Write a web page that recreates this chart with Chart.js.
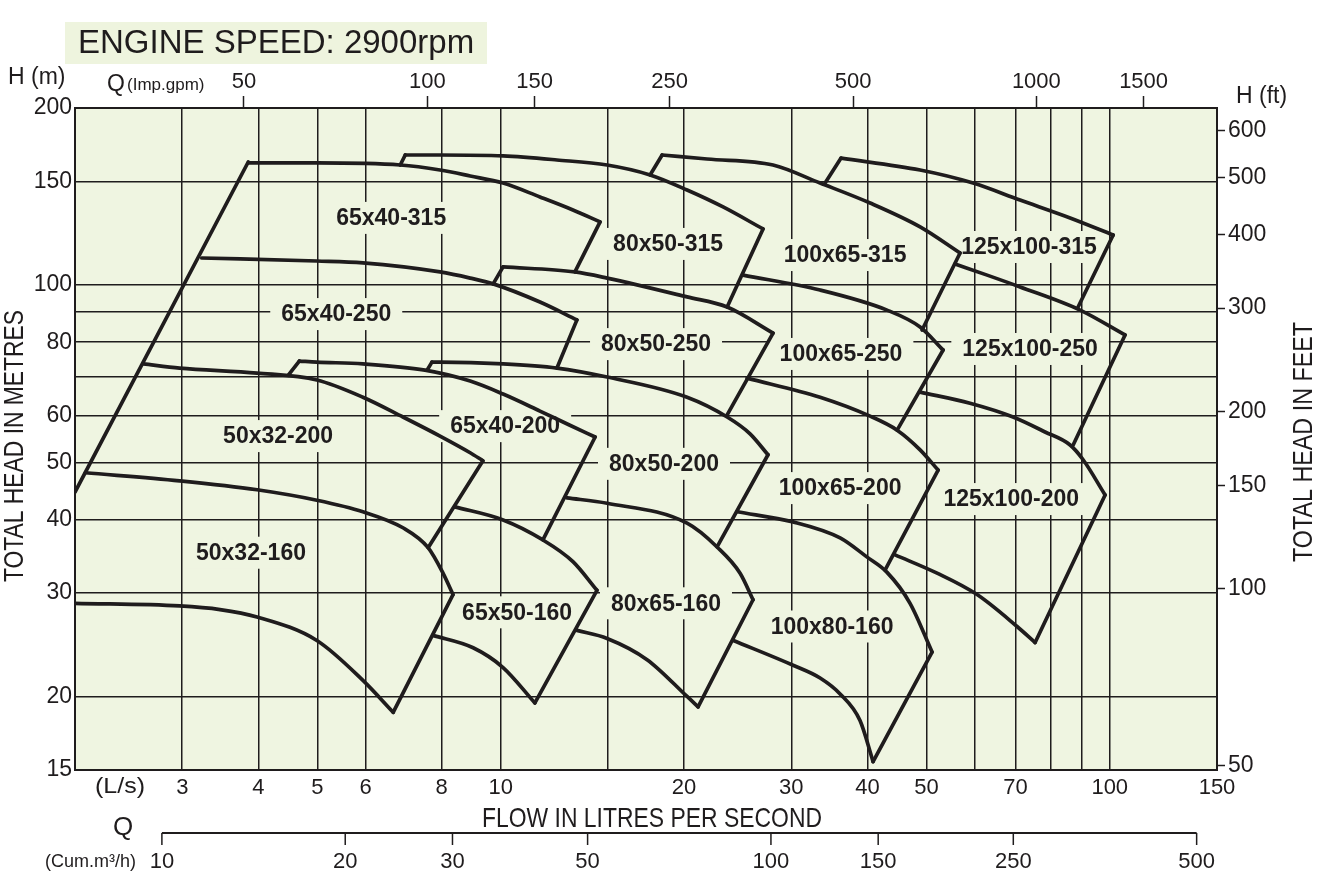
<!DOCTYPE html>
<html>
<head>
<meta charset="utf-8">
<title>Pump performance curves - 2900rpm</title>
<script src="https://cdn.jsdelivr.net/npm/chart.js@4.4.0/dist/chart.umd.min.js"></script>
<style>
  html, body { margin: 0; padding: 0; background: #fff; }
  canvas { display: block; }
</style>
</head>
<body>
<canvas id="pumpChart" width="1317" height="879"></canvas>
<script>
// axis ticks (Q in L/s, H in m)
const xGrid = [3, 4, 5, 6, 8, 10, 15, 20, 30, 40, 50, 60, 70, 80, 90, 100, 150];
const xLabels = [3, 4, 5, 6, 8, 10, 20, 30, 40, 50, 70, 100, 150];
const yGrid = [15, 20, 30, 40, 50, 60, 70, 80, 90, 100, 150, 200];
const yLabels = [15, 20, 30, 40, 50, 60, 80, 100, 150, 200];
const ftTicks = [50, 100, 150, 200, 300, 400, 500, 600];
const gpmTicks = [50, 100, 150, 250, 500, 1000, 1500];
const m3hTicks = [10, 20, 30, 50, 100, 150, 250, 500];

const M_TO_FT = 3.28084;
const LPS_TO_GPM = 13.198;
const LPS_TO_M3H = 3.6;

// curves: [Q (L/s), H (m)]
const minFlowLine = [[2.00, 44.5], [3.85, 161.9]];

const top65x40_315 = [[3.85, 161.3], [4.99, 161.3], [6.84, 160.0], [7.95, 156.9], [8.91, 153.3], [10.09, 149.1], [11.60, 141.2], [13.14, 134.2], [14.56, 128.1]];
const edge65x40_315 = [[14.56, 128.1], [13.24, 105.3]];

const notch80x50_315 = [[6.84, 160.0], [6.97, 166.4]];
const top80x50_315 = [[6.97, 166.4], [7.95, 166.4], [10.09, 165.8], [12.37, 163.2], [14.95, 160.0], [17.59, 153.9], [20.23, 145.1], [23.18, 135.8], [26.96, 124.6]];
const edge80x50_315 = [[26.96, 124.6], [23.54, 91.8]];

const notch100x65_315 = [[17.59, 153.9], [18.41, 166.4]];
const top100x65_315 = [[18.41, 166.4], [21.82, 163.8], [28.00, 160.0], [33.45, 149.1], [40.41, 137.9], [48.82, 125.6], [56.78, 113.4]];
const edge100x65_315 = [[56.78, 113.4], [49.19, 83.9]];

const notch125x100_315 = [[34.09, 149.1], [36.21, 164.4]];
const top125x100_315 = [[36.21, 164.4], [48.82, 156.9], [59.64, 149.1], [71.24, 139.5], [86.08, 130.1], [101.3, 121.7]];
const edge125x100_315 = [[101.3, 121.7], [88.72, 91.8]];

const top65x40_250 = [[3.23, 111.2], [4.99, 109.9], [5.94, 109.1], [7.95, 105.3], [8.91, 102.8], [9.72, 100.5], [11.60, 93.6], [13.34, 87.3]];
const edge65x40_250 = [[13.34, 87.3], [12.37, 72.3]];

const notch80x50_250 = [[9.72, 100.5], [10.09, 107.4]];
const top80x50_250 = [[10.09, 107.4], [13.24, 105.3], [14.95, 102.8], [20.23, 95.5], [23.54, 91.8], [28.00, 82.9]];
const edge80x50_250 = [[28.00, 82.9], [23.54, 60.2]];

const top100x65_250 = [[25.00, 104.0], [33.45, 98.1], [43.09, 90.7], [48.82, 84.9], [53.26, 77.6]];
const edge100x65_250 = [[53.26, 77.6], [44.76, 56.7]];

const top125x100_250 = [[55.72, 108.6], [62.9, 104.0], [71.24, 99.3], [89.40, 90.7], [105.96, 82.3]];
const edge125x100_250 = [[105.96, 82.3], [87.08, 53.5]];

const top50x32_200 = [[2.59, 73.5], [2.97, 72.3], [3.98, 70.9], [4.99, 69.0], [5.94, 64.5], [6.91, 59.7], [7.95, 55.4], [8.91, 51.9], [9.35, 50.3]];
const edge50x32_200 = [[9.35, 50.3], [7.60, 35.8]];

const notch65x40_200 = [[4.48, 70.3], [4.67, 74.3]];
const top65x40_200 = [[4.67, 74.3], [4.99, 74.0], [5.94, 73.5], [7.51, 71.7], [8.91, 68.7], [10.09, 65.3], [11.60, 61.1], [12.99, 57.8], [14.29, 55.2]];
const edge65x40_200 = [[14.29, 55.2], [11.73, 36.9]];

const notch80x50_200 = [[7.57, 71.7], [7.71, 74.0]];
const top80x50_200 = [[7.71, 74.0], [7.95, 74.0], [10.09, 73.5], [12.37, 72.3], [14.95, 69.8], [20.23, 64.5], [23.54, 59.7], [25.67, 55.9], [27.47, 51.5]];
const edge80x50_200 = [[27.47, 51.5], [22.66, 35.9]];

const top100x65_200 = [[25.38, 69.5], [33.45, 64.5], [40.41, 59.9], [44.76, 56.7], [48.82, 52.5], [52.26, 48.5]];
const edge100x65_200 = [[52.26, 48.5], [42.76, 32.8]];

const top125x100_200 = [[48.82, 65.8], [58.96, 63.0], [69.38, 59.7], [78.3, 56.3], [86.08, 53.5], [90.42, 50.5], [98.26, 44.0]];
const edge125x100_200 = [[98.26, 44.0], [75.42, 24.7]];
const bottom125x100_200 = [[44.42, 34.8], [52.06, 32.4], [60.55, 29.8], [70.44, 26.3], [75.42, 24.7]];

const top50x32_160 = [[2.08, 48.0], [2.97, 46.5], [3.98, 44.9], [4.99, 43.1], [5.94, 41.2], [6.91, 38.7], [7.60, 35.8], [8.04, 32.4], [8.35, 29.8]];
const edge50x32_160 = [[8.35, 29.8], [6.66, 18.8]];
const bottom50x32_160 = [[2.00, 28.8], [2.97, 28.5], [3.46, 28.1], [3.98, 27.3], [4.99, 24.9], [5.94, 21.3], [6.66, 18.8]];

const top65x50_160 = [[8.41, 42.0], [10.09, 39.9], [11.73, 36.9], [13.14, 33.9], [14.39, 30.3]];
const edge65x50_160 = [[14.39, 30.3], [11.38, 19.5]];
const bottom65x50_160 = [[7.74, 25.4], [9.01, 24.2], [10.09, 22.4], [11.38, 19.5]];

const top80x65_160 = [[12.85, 43.5], [14.95, 42.6], [20.23, 39.4], [22.66, 35.9], [24.72, 32.4], [25.96, 29.2]];
const edge80x65_160 = [[25.96, 29.2], [21.09, 19.2]];
const bottom80x65_160 = [[13.34, 25.9], [14.95, 25.1], [17.39, 23.1], [20.23, 20.0], [21.09, 19.2]];

const top100x80_160 = [[24.44, 41.2], [30.20, 39.6], [36.08, 37.2], [39.96, 34.5], [43.09, 32.5], [47.00, 28.8], [51.08, 23.8]];
const edge100x80_160 = [[51.08, 23.8], [40.87, 15.5]];
const bottom100x80_160 = [[24.1, 24.9], [30.20, 22.6], [33.45, 21.5], [36.08, 20.2], [38.9, 18.2], [40.87, 15.5]];

// model names and where they sit
const labelNames = ['65x40-315', '80x50-315', '100x65-315', '125x100-315',
  '65x40-250', '80x50-250', '100x65-250', '125x100-250',
  '50x32-200', '65x40-200', '80x50-200', '100x65-200', '125x100-200',
  '50x32-160', '65x50-160', '80x65-160', '100x80-160'];
const labelQ = [6.61, 18.83, 36.76, 73.7, 5.37, 17.99, 36.2, 74.0, 4.31, 10.17, 18.54, 36.08, 68.9, 3.89, 10.64, 18.68, 35.0];
const labelH = [130.1, 117.5, 112.5, 116.1, 89.3, 79.4, 76.4, 77.9, 55.4, 57.6, 49.7, 45.2, 43.3, 35.1, 27.8, 28.8, 26.3];

const smoothCurves = [top65x40_315, top80x50_315, top100x65_315, top125x100_315,
  top65x40_250, top80x50_250, top100x65_250, top125x100_250,
  top50x32_200, top65x40_200, top80x50_200, top100x65_200, top125x100_200, bottom125x100_200,
  top50x32_160, bottom50x32_160, top65x50_160, bottom65x50_160,
  top80x65_160, bottom80x65_160, top100x80_160, bottom100x80_160];
const straightLines = [minFlowLine,
  edge65x40_315, notch80x50_315, edge80x50_315, notch100x65_315, edge100x65_315, notch125x100_315, edge125x100_315,
  edge65x40_250, notch80x50_250, edge80x50_250, edge100x65_250, edge125x100_250,
  edge50x32_200, notch65x40_200, edge65x40_200, notch80x50_200, edge80x50_200, edge100x65_200, edge125x100_200,
  edge50x32_160, edge65x50_160, edge80x65_160, edge100x80_160];

const ink = '#1f1c1d';
const plotBg = '#eff5e1';
const family = '"Liberation Sans", Arial, Helvetica, sans-serif';
const labelFont = 'bold 23px ' + family;

function lineSet(points, smooth) {
  return {
    data: points.map(p => ({ x: p[0], y: p[1] })),
    showLine: true,
    borderColor: ink,
    borderWidth: 3.7,
    borderCapStyle: 'round',
    borderJoinStyle: 'round',
    pointRadius: 0,
    cubicInterpolationMode: smooth ? 'monotone' : 'default',
    tension: 0
  };
}

const datasets = smoothCurves.map(c => lineSet(c, true))
  .concat(straightLines.map(c => lineSet(c, false)));

function squeezeText(ctx, text, cx, cy, width, font, angle) {
  ctx.save();
  ctx.translate(cx, cy);
  ctx.rotate(angle);
  ctx.font = font;
  const w = ctx.measureText(text).width;
  ctx.scale(width / w, 1);
  ctx.textAlign = 'center';
  ctx.textBaseline = 'middle';
  ctx.fillText(text, 0, 0);
  ctx.restore();
}

const chartDecor = {
  id: 'chartDecor',
  beforeDraw(chart) {
    const { ctx, chartArea: a } = chart;
    ctx.save();
    ctx.fillStyle = '#fff';
    ctx.fillRect(0, 0, chart.width, chart.height);
    ctx.fillStyle = plotBg;
    ctx.fillRect(a.left, a.top, a.right - a.left, a.bottom - a.top);
    // title box
    ctx.fillStyle = '#eef4de';
    ctx.fillRect(65, 22, 422, 42);
    ctx.fillStyle = ink;
    ctx.font = '33px ' + family;
    ctx.textBaseline = 'middle';
    ctx.fillText('ENGINE SPEED: 2900rpm', 78, 44);
    ctx.restore();
  },
  beforeDatasetsDraw(chart) {
    // clear the grid behind the model names
    const { ctx, scales: { x, y } } = chart;
    ctx.save();
    ctx.font = labelFont;
    ctx.fillStyle = plotBg;
    labelNames.forEach((t, i) => {
      const px = x.getPixelForValue(labelQ[i]);
      const py = y.getPixelForValue(labelH[i]);
      const w = ctx.measureText(t).width + 22;
      ctx.fillRect(px - w / 2, py - 16, w, 32);
    });
    ctx.restore();
  },
  afterDatasetsDraw(chart) {
    const { ctx, scales: { x, y } } = chart;
    ctx.save();
    ctx.font = labelFont;
    ctx.fillStyle = ink;
    ctx.textAlign = 'center';
    ctx.textBaseline = 'middle';
    labelNames.forEach((t, i) => {
      ctx.fillText(t, x.getPixelForValue(labelQ[i]), y.getPixelForValue(labelH[i]) + 1);
    });
    ctx.restore();
  },
  afterDraw(chart) {
    const { ctx, scales: { x } } = chart;
    ctx.save();
    ctx.fillStyle = ink;
    ctx.strokeStyle = ink;
    ctx.textBaseline = 'middle';

    // unit captions
    ctx.font = '23px ' + family;
    ctx.fillText('H (m)', 8, 78);
    ctx.fillText('H (ft)', 1236, 97);
    ctx.fillText('Q', 107, 85);
    ctx.font = '17px ' + family;
    ctx.fillText('(Imp.gpm)', 127, 85);
    squeezeText(ctx, '(L/s)', 120, 787, 50, '22px ' + family, 0);

    // axis titles
    squeezeText(ctx, 'TOTAL HEAD IN METRES', 15, 446, 272, '28px ' + family, -Math.PI / 2);
    squeezeText(ctx, 'TOTAL HEAD IN FEET', 1304, 442, 240, '28px ' + family, -Math.PI / 2);
    squeezeText(ctx, 'FLOW IN LITRES PER SECOND', 652, 819, 340, '28px ' + family, 0);

    // second flow axis in m3/h
    const yLine = 833;
    const x0 = x.getPixelForValue(m3hTicks[0] / LPS_TO_M3H);
    const x1 = x.getPixelForValue(m3hTicks[m3hTicks.length - 1] / LPS_TO_M3H);
    ctx.lineWidth = 2;
    ctx.beginPath();
    ctx.moveTo(x0, yLine);
    ctx.lineTo(x1, yLine);
    ctx.stroke();
    ctx.lineWidth = 1.5;
    ctx.font = '22px ' + family;
    ctx.textAlign = 'center';
    m3hTicks.forEach(v => {
      const px = x.getPixelForValue(v / LPS_TO_M3H);
      ctx.beginPath();
      ctx.moveTo(px, yLine);
      ctx.lineTo(px, yLine + 12);
      ctx.stroke();
      ctx.fillText(String(v), px, yLine + 29);
    });
    ctx.font = '26px ' + family;
    ctx.fillText('Q', 123, 828);
    ctx.textAlign = 'right';
    ctx.font = '18px ' + family;
    ctx.fillText('(Cum.m³/h)', 136, 862);
    ctx.restore();
  }
};

const gridStyle = { color: ink, lineWidth: 1.5, drawTicks: false };
const borderStyle = { display: true, color: ink, width: 2 };

new Chart(document.getElementById('pumpChart'), {
  type: 'scatter',
  data: { datasets: datasets },
  options: {
    responsive: false,
    animation: false,
    devicePixelRatio: 1,
    layout: { padding: 0 },
    plugins: {
      legend: { display: false },
      tooltip: { enabled: false },
      title: { display: false }
    },
    scales: {
      x: {
        type: 'logarithmic',
        position: 'bottom',
        min: 2,
        max: 150,
        afterBuildTicks: s => { s.ticks = xGrid.map(v => ({ value: v })); },
        afterFit: s => { s.height = 109; },
        ticks: {
          autoSkip: false, maxRotation: 0, minRotation: 0, padding: 5,
          color: ink, font: { family: family, size: 22 },
          callback: v => xLabels.includes(v) ? String(v) : ''
        },
        grid: gridStyle,
        border: borderStyle
      },
      y: {
        type: 'logarithmic',
        position: 'left',
        min: 15,
        max: 200,
        afterBuildTicks: s => { s.ticks = yGrid.map(v => ({ value: v })); },
        afterFit: s => { s.width = 75; },
        ticks: {
          autoSkip: false, padding: 3,
          color: ink, font: { family: family, size: 23 },
          callback: v => yLabels.includes(v) ? String(v) : ''
        },
        grid: gridStyle,
        border: borderStyle
      },
      xTop: {
        type: 'logarithmic',
        position: 'top',
        min: 2 * LPS_TO_GPM,
        max: 150 * LPS_TO_GPM,
        afterBuildTicks: s => { s.ticks = gpmTicks.map(v => ({ value: v })); },
        afterFit: s => { s.height = 108; },
        ticks: {
          autoSkip: false, maxRotation: 0, minRotation: 0, padding: 1,
          color: ink, font: { family: family, size: 22 },
          callback: v => String(v)
        },
        grid: { drawOnChartArea: false, drawTicks: true, tickLength: 12, tickColor: ink, tickWidth: 1.5 },
        border: borderStyle
      },
      yRight: {
        type: 'logarithmic',
        position: 'right',
        min: 15 * M_TO_FT,
        max: 200 * M_TO_FT,
        afterBuildTicks: s => { s.ticks = ftTicks.map(v => ({ value: v })); },
        afterFit: s => { s.width = 100; },
        ticks: {
          autoSkip: false, padding: 3,
          color: ink, font: { family: family, size: 23 },
          callback: v => String(v)
        },
        grid: { drawOnChartArea: false, drawTicks: true, tickLength: 8, tickColor: ink, tickWidth: 1.5 },
        border: borderStyle
      }
    }
  },
  plugins: [chartDecor]
});
</script>
</body>
</html>
